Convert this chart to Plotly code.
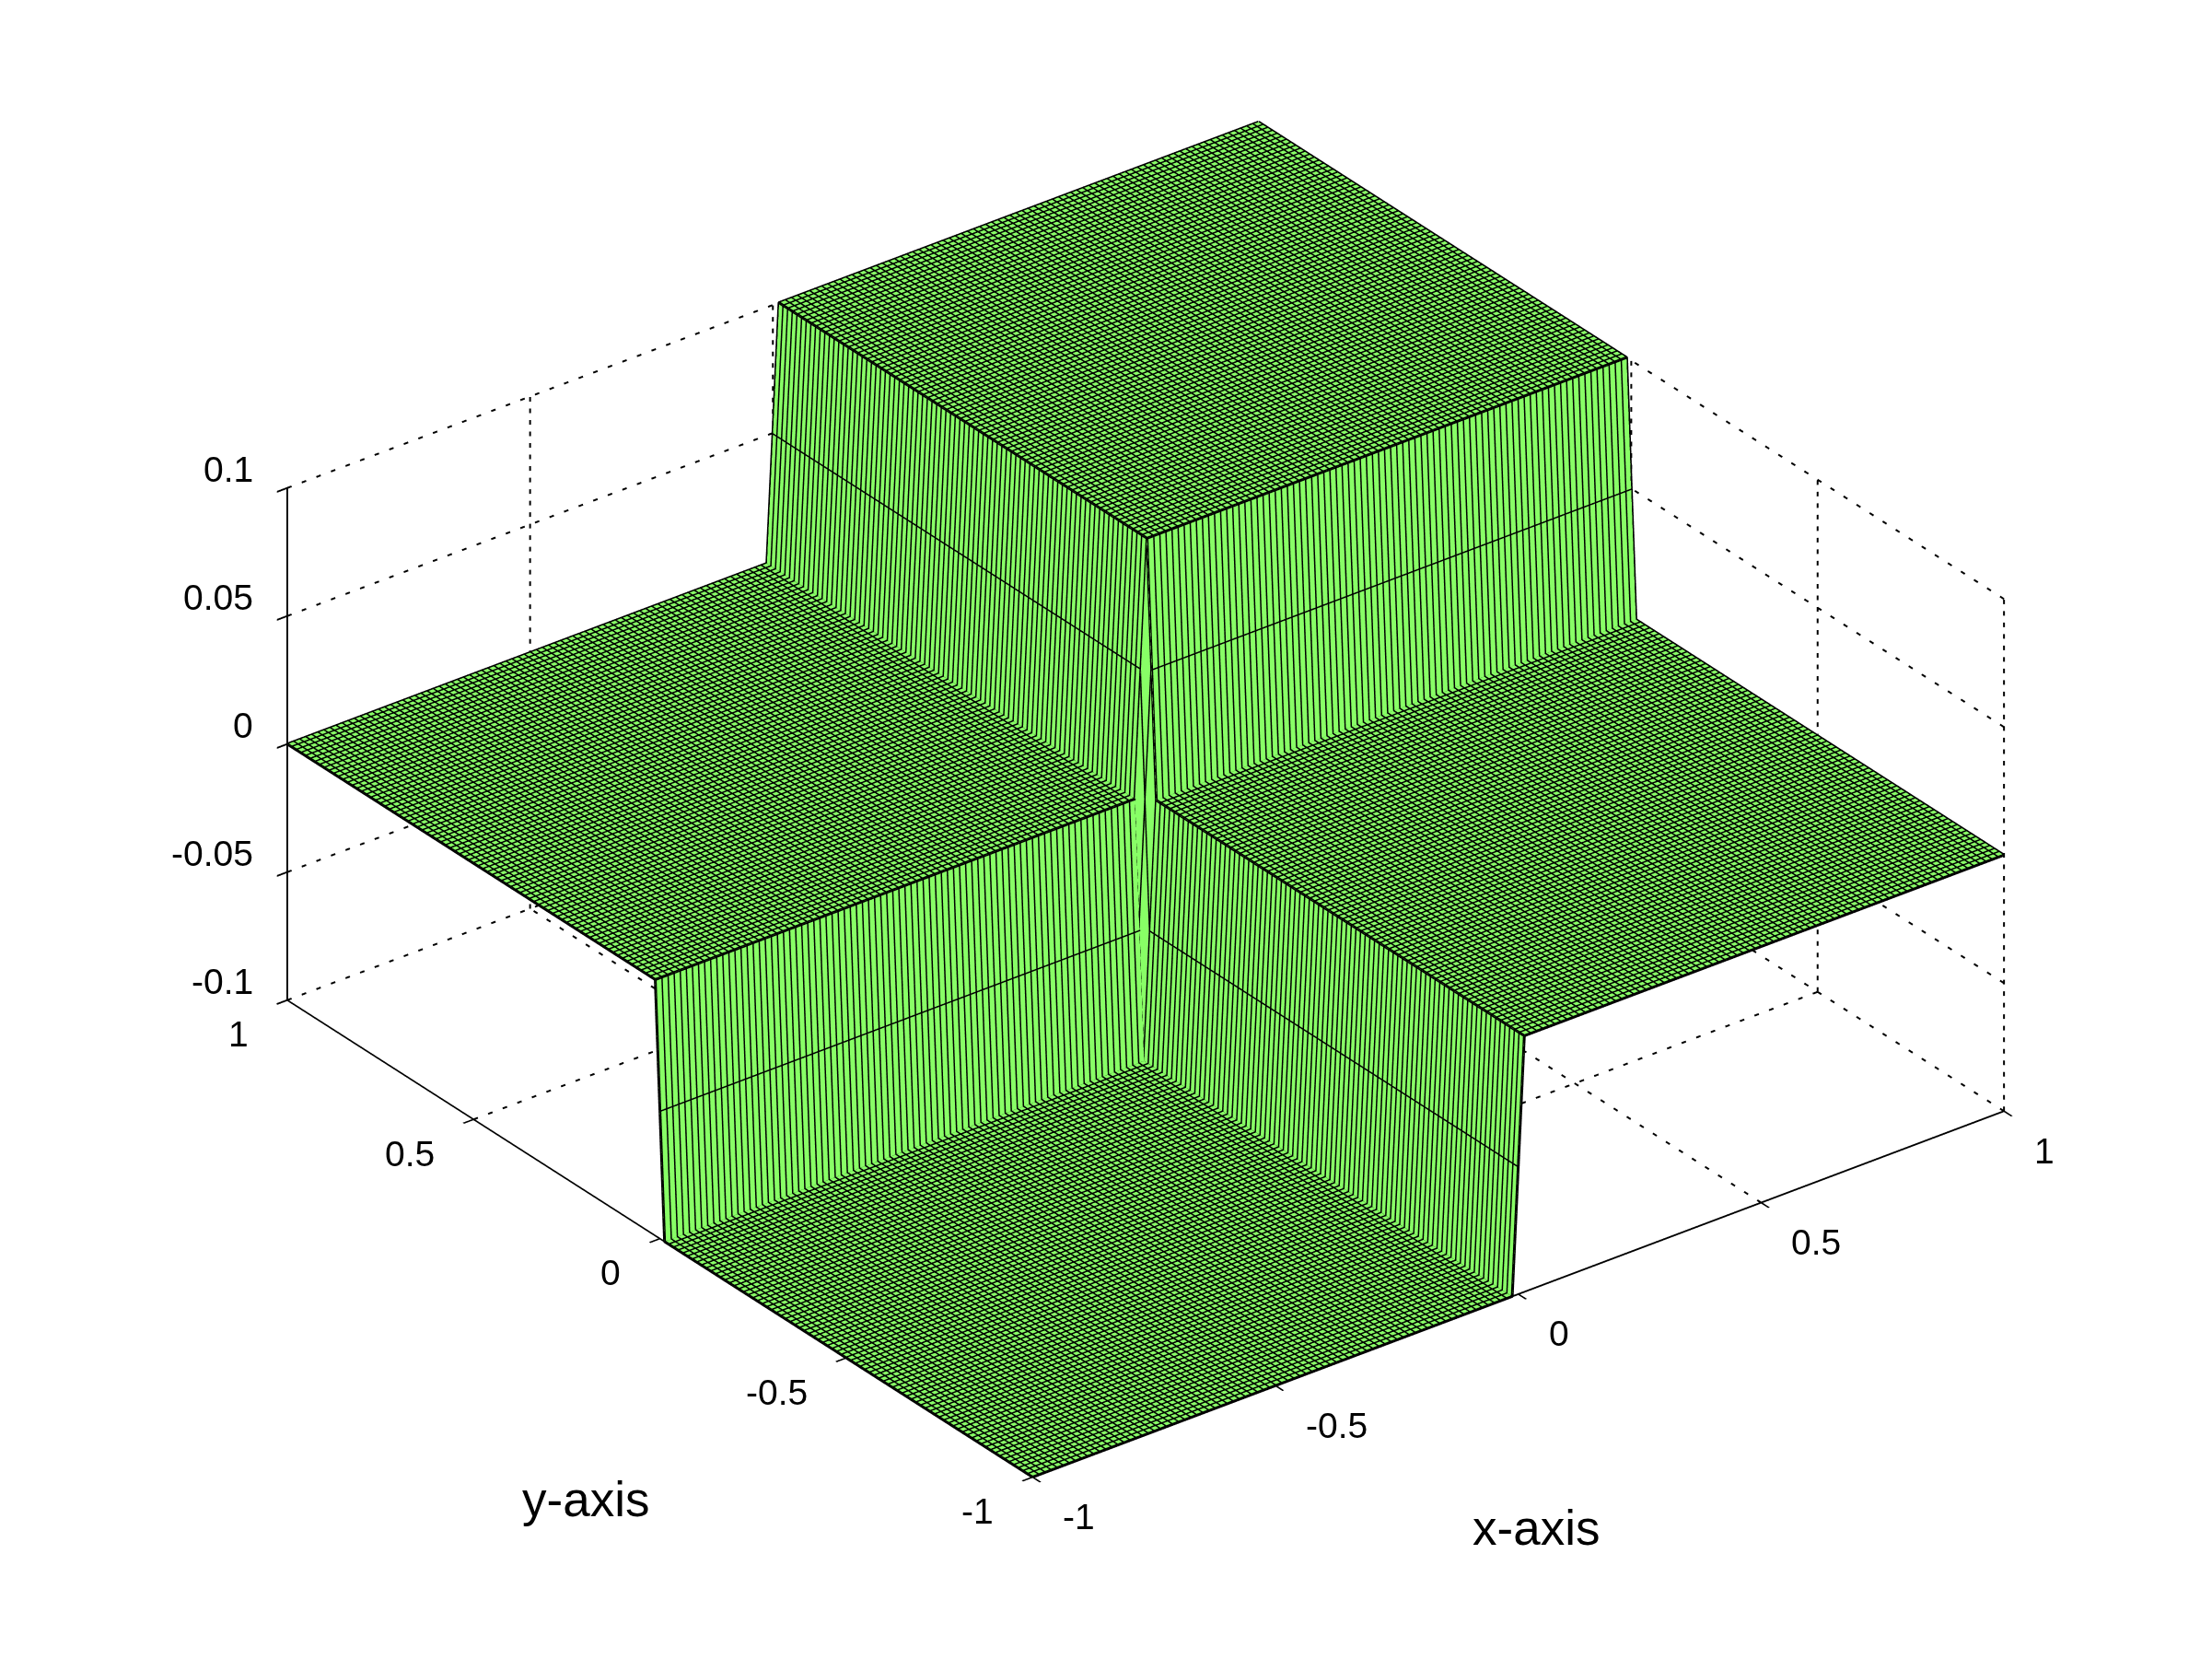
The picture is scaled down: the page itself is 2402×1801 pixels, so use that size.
import numpy as np
import plotly.graph_objects as go

# surface: piecewise-constant blocks (x<0, x=0, x>0) by (y<0, y=0, y>0)
block_z = [[-0.1, -0.05, 0.0],
           [-0.05, 0.0, 0.05],
           [0.0, 0.05, 0.1]]
block_counts = [80, 1, 80]
grid_step = 0.0125
x_ticks = [-1, -0.5, 0, 0.5, 1]
y_ticks = [-1, -0.5, 0, 0.5, 1]
z_ticks = [-0.1, -0.05, 0, 0.05, 0.1]
z_tick_text = ["-0.1", "-0.05", "0", "0.05", "0.1"]
xy_tick_text = ["-1", "-0.5", "0", "0.5", "1"]

x = np.arange(-80, 81) * grid_step
y = np.arange(-80, 81) * grid_step
z = np.repeat(np.repeat(np.array(block_z), block_counts, axis=0), block_counts, axis=1)  # z[y, x]

GREEN = "#88ff66"
FONT = "Liberation Sans, Arial, sans-serif"

fig = go.Figure()

# dotted grid on back planes, drawn as short dashes in data units
gx, gy, gz = [], [], []
def seg(a, b, period, dash):
    a = np.array(a, float); b = np.array(b, float)
    L = np.abs(b - a).sum()
    d = (b - a) / L
    s = 0.0
    while s < L:
        p = a + d * s
        q = a + d * min(s + dash, L)
        gx.extend([p[0], q[0], None]); gy.extend([p[1], q[1], None]); gz.extend([p[2], q[2], None])
        s += period
XP, XD = 0.03, 0.009     # along x
YP, YD = 0.035, 0.0105   # along y
ZP, ZD = 0.0045, 0.0018  # along z
for t in x_ticks[1:]:
    seg((t, 0 if t <= 0 else -1, -0.1), (t, 1, -0.1), YP, YD)
    seg((t, 1, -0.1), (t, 1, 0.1), ZP, ZD)
for t in y_ticks[1:]:
    seg((0 if t <= 0 else -1, t, -0.1), (1, t, -0.1), XP, XD)
    seg((1, t, -0.1), (1, t, 0.1), ZP, ZD)
for t in z_ticks:
    seg((-1, 1, t), (1, 1, t), XP, XD)
    seg((1, -1, t), (1, 1, t), YP, YD)
seg((1, -1, -0.1), (1, -1, 0.1), ZP, ZD)
fig.add_trace(go.Scatter3d(x=gx, y=gy, z=gz, mode="lines",
                           line=dict(color="black", width=4),
                           connectgaps=False,
                           hoverinfo="skip", showlegend=False))

fig.add_trace(go.Surface(
    x=x, y=y, z=z,
    surfacecolor=np.zeros_like(z),
    colorscale=[[0, GREEN], [1, GREEN]],
    showscale=False,
    lighting=dict(ambient=1, diffuse=0, specular=0, roughness=1, fresnel=0),
    hoverinfo="skip",
))

# black mesh along every grid row and column of the surface
mx, my, mz = [], [], []
for j in range(len(y)):
    mx.extend(x.tolist() + [None]); my.extend([y[j]] * len(x) + [None]); mz.extend(z[j, :].tolist() + [None])
for i in range(len(x)):
    mx.extend([x[i]] * len(y) + [None]); my.extend(y.tolist() + [None]); mz.extend(z[:, i].tolist() + [None])
fig.add_trace(go.Scatter3d(x=mx, y=my, z=mz, mode="lines",
                           line=dict(color="black", width=6),
                           connectgaps=False,
                           hoverinfo="skip", showlegend=False))

def ax(rng, vals):
    return dict(range=rng, tickmode="array", tickvals=vals, showticklabels=False,
                showgrid=False, zeroline=False, showbackground=False, showspikes=False,
                showline=True, linecolor="black", linewidth=4,
                ticks="outside", ticklen=14, tickwidth=4, tickcolor="black",
                title=dict(text=""))

TICK_FONT = dict(family=FONT, size=39, color="black")
scene_ann = []
for v, t in zip(x_ticks, xy_tick_text):
    scene_ann.append(dict(x=v, y=-1, z=-0.1, text=t, showarrow=False, xanchor="left", yanchor="middle",
                          xshift=31, yshift=-43, font=TICK_FONT))
for v, t in zip(y_ticks, xy_tick_text):
    scene_ann.append(dict(x=-1, y=v, z=-0.1, text=t, showarrow=False, xanchor="right", yanchor="middle",
                          xshift=-40, yshift=-37, font=TICK_FONT))
for v, t in zip(z_ticks, z_tick_text):
    scene_ann.append(dict(x=-1, y=1, z=v, text=t, showarrow=False, xanchor="right", yanchor="middle",
                          xshift=-35, yshift=20, font=TICK_FONT))

az = np.deg2rad(37.5)
el = np.deg2rad(29.4)
R = 1.93
S = 1.546
fig.update_layout(
    width=2402, height=1801,
    margin=dict(l=0, r=0, t=0, b=0),
    paper_bgcolor="white",
    showlegend=False,
    scene=dict(
        domain=dict(x=[0.029, 1], y=[0.045, 1]),
        xaxis=ax([-1, 1], x_ticks),
        yaxis=ax([-1, 1], y_ticks),
        zaxis=ax([-0.1, 0.1], z_ticks),
        aspectmode="manual",
        aspectratio=dict(x=S, y=S, z=0.48*S),
        camera=dict(
            projection=dict(type="orthographic"),
            up=dict(x=0, y=0, z=1),
            center=dict(x=0, y=0, z=0),
            eye=dict(x=-R*np.sin(az)*np.cos(el), y=-R*np.cos(az)*np.cos(el), z=R*np.sin(el)),
        ),
        annotations=scene_ann,
    ),
    annotations=[
        dict(text="y-axis", x=628/2402, y=1-1619/1801, xref="paper", yref="paper", showarrow=False,
             xanchor="center", yanchor="middle", font=dict(family=FONT, size=53, color="black")),
        dict(text="x-axis", x=1660/2402, y=1-1650/1801, xref="paper", yref="paper", showarrow=False,
             xanchor="center", yanchor="middle", font=dict(family=FONT, size=53, color="black")),
    ],
)
fig.write_html("out.html")
